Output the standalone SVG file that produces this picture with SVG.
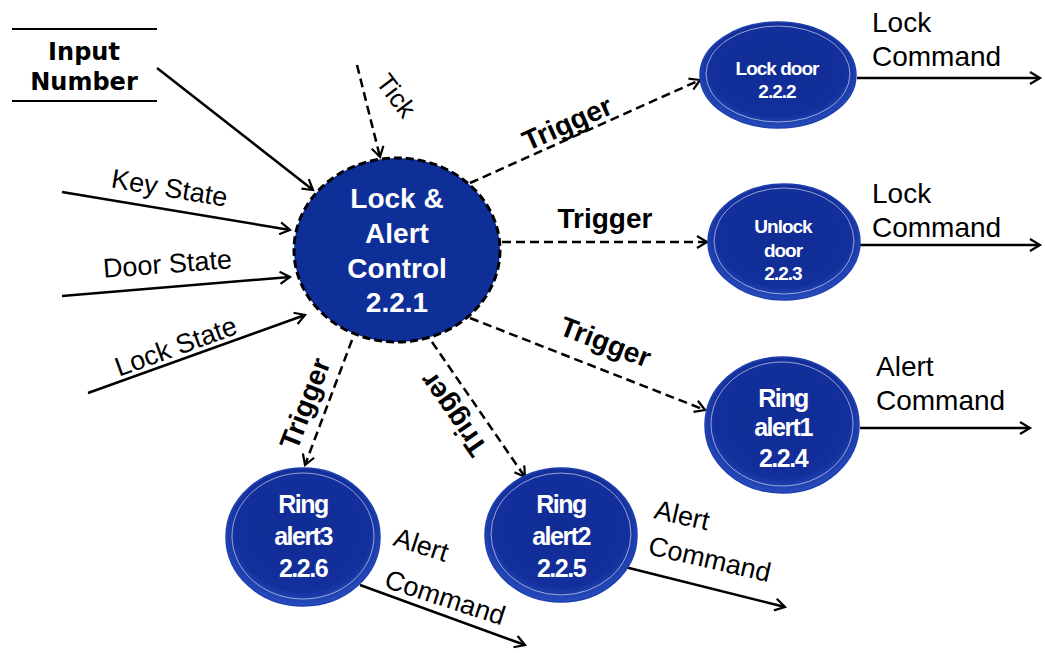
<svg xmlns="http://www.w3.org/2000/svg" width="1045" height="653" viewBox="0 0 1045 653">
<defs>
<marker id="ah" markerWidth="14" markerHeight="14" refX="11" refY="7" orient="auto" markerUnits="userSpaceOnUse">
<path d="M1,1 L11,7 L1,13" fill="none" stroke="#000" stroke-width="2.2"/>
</marker>
<radialGradient id="bg" cx="50%" cy="45%" r="55%">
<stop offset="0" stop-color="#102c94"/>
<stop offset="0.8" stop-color="#132f9c"/>
<stop offset="1" stop-color="#2a4fc0"/>
</radialGradient>
<style>
.sol{stroke:#000;stroke-width:2.5;fill:none;marker-end:url(#ah)}
.dsh{stroke:#000;stroke-width:2.5;fill:none;stroke-dasharray:9 5;marker-end:url(#ah)}
.nd{fill:url(#bg);stroke:#1d3fae;stroke-width:1.5}
.rim{fill:none;stroke:#fff;stroke-opacity:0.55;stroke-width:1}
.nt{font-family:"Liberation Sans",Arial,sans-serif;font-weight:bold;fill:#fff;text-anchor:middle}
.lb{font-family:"Liberation Sans",Arial,sans-serif;fill:#000}
.tg{font-family:"Liberation Sans",Arial,sans-serif;font-weight:bold;fill:#000;font-size:28px;text-anchor:middle}
</style>
</defs>
<rect width="1045" height="653" fill="#fff"/>

<g id="input-number">
<line x1="12" y1="29" x2="157" y2="29" stroke="#000" stroke-width="2"/>
<line x1="12" y1="101" x2="157" y2="101" stroke="#000" stroke-width="2"/>
<text x="84" y="60" font-family="DejaVu Sans,Verdana,sans-serif" font-weight="bold" font-size="24" text-anchor="middle">Input</text>
<text x="84" y="90" font-family="DejaVu Sans,Verdana,sans-serif" font-weight="bold" font-size="24" text-anchor="middle">Number</text>
</g>

<g id="connectors">
<line class="sol" x1="157" y1="68" x2="313" y2="190"/>
<line class="sol" x1="62" y1="192" x2="290" y2="230"/>
<line class="sol" x1="62" y1="296" x2="290" y2="277"/>
<line class="sol" x1="88" y1="393" x2="305" y2="315"/>
<line class="dsh" x1="357" y1="65" x2="380" y2="157"/>
<line class="dsh" x1="470" y1="183" x2="700" y2="80"/>
<line class="dsh" x1="502" y1="242" x2="707" y2="242"/>
<line class="dsh" x1="470" y1="318" x2="705" y2="410"/>
<line class="dsh" x1="352" y1="340" x2="305" y2="465"/>
<line class="dsh" x1="432" y1="342" x2="525" y2="477"/>
<line class="sol" x1="857" y1="78" x2="1040" y2="78"/>
<line class="sol" x1="860" y1="245" x2="1040" y2="245"/>
<line class="sol" x1="860" y1="428" x2="1030" y2="428"/>
<line class="sol" x1="625" y1="567" x2="785" y2="607"/>
<line class="sol" x1="360" y1="585" x2="525" y2="645"/>

<text class="lb" font-size="27" text-anchor="middle" transform="translate(168,197) rotate(9.5)">Key State</text>
<text class="lb" font-size="27" text-anchor="middle" transform="translate(168,273) rotate(-4.3)">Door State</text>
<text class="lb" font-size="27" text-anchor="middle" transform="translate(179,355) rotate(-20)">Lock State</text>
<text class="lb" font-size="26" text-anchor="middle" transform="translate(389,101) rotate(53)">Tick</text>
<text class="tg" transform="translate(571,132) rotate(-24)">Trigger</text>
<text class="tg" x="605" y="228">Trigger</text>
<text class="tg" transform="translate(602,351) rotate(21)">Trigger</text>
<text class="tg" transform="translate(314,407) rotate(-69)">Trigger</text>
<text class="tg" transform="translate(461,409) rotate(-125)">Trigger</text>

<text class="lb" font-size="28" x="872" y="32">Lock</text>
<text class="lb" font-size="28" x="872" y="66">Command</text>
<text class="lb" font-size="28" x="872" y="203">Lock</text>
<text class="lb" font-size="28" x="872" y="237">Command</text>
<text class="lb" font-size="28" x="876" y="376">Alert</text>
<text class="lb" font-size="28" x="876" y="410">Command</text>
<text class="lb" font-size="27" transform="translate(653,518) rotate(13)">Alert</text>
<text class="lb" font-size="27" transform="translate(647,554) rotate(13)">Command</text>
<text class="lb" font-size="27" transform="translate(392,545) rotate(18)">Alert</text>
<text class="lb" font-size="27" transform="translate(383,587) rotate(18)">Command</text>
</g>

<g id="lock-alert-control">
<ellipse cx="397" cy="250" rx="103" ry="92" fill="#0f2f98" stroke="#000" stroke-width="3" stroke-dasharray="8 4"/>
<text class="nt" font-size="28" x="397" y="208">Lock &amp;</text>
<text class="nt" font-size="28" x="397" y="243">Alert</text>
<text class="nt" font-size="28" x="397" y="278">Control</text>
<text class="nt" font-size="28" x="397" y="312">2.2.1</text>
</g>

<g id="lock-door">
<ellipse class="nd" cx="778" cy="75" rx="78" ry="53"/>
<ellipse class="rim" cx="778" cy="74" rx="72" ry="48"/>
<text class="nt" font-size="19" letter-spacing="-1" x="777" y="75">Lock door</text>
<text class="nt" font-size="19" letter-spacing="-1" x="777" y="98">2.2.2</text>
</g>

<g id="unlock-door">
<ellipse class="nd" cx="784" cy="242" rx="76" ry="58"/>
<ellipse class="rim" cx="784" cy="241" rx="70" ry="53"/>
<text class="nt" font-size="19" letter-spacing="-1" x="783" y="233">Unlock</text>
<text class="nt" font-size="19" letter-spacing="-1" x="783" y="257">door</text>
<text class="nt" font-size="19" letter-spacing="-1" x="783" y="280">2.2.3</text>
</g>

<g id="ring-alert1">
<ellipse class="nd" cx="782" cy="425" rx="77" ry="68"/>
<ellipse class="rim" cx="782" cy="424" rx="71" ry="62"/>
<text class="nt" font-size="25" letter-spacing="-1.5" x="783" y="407">Ring</text>
<text class="nt" font-size="25" letter-spacing="-1.5" x="783" y="436">alert1</text>
<text class="nt" font-size="25" letter-spacing="-1.5" x="783" y="467">2.2.4</text>
</g>

<g id="ring-alert2">
<ellipse class="nd" cx="561" cy="535" rx="76" ry="67"/>
<ellipse class="rim" cx="561" cy="534" rx="70" ry="61"/>
<text class="nt" font-size="25" letter-spacing="-1.5" x="561" y="513">Ring</text>
<text class="nt" font-size="25" letter-spacing="-1.5" x="561" y="545">alert2</text>
<text class="nt" font-size="25" letter-spacing="-1.5" x="561" y="577">2.2.5</text>
</g>

<g id="ring-alert3">
<ellipse class="nd" cx="303" cy="537" rx="77" ry="69"/>
<ellipse class="rim" cx="303" cy="536" rx="71" ry="63"/>
<text class="nt" font-size="25" letter-spacing="-1.5" x="303" y="513">Ring</text>
<text class="nt" font-size="25" letter-spacing="-1.5" x="303" y="545">alert3</text>
<text class="nt" font-size="25" letter-spacing="-1.5" x="303" y="577">2.2.6</text>
</g>
</svg>
